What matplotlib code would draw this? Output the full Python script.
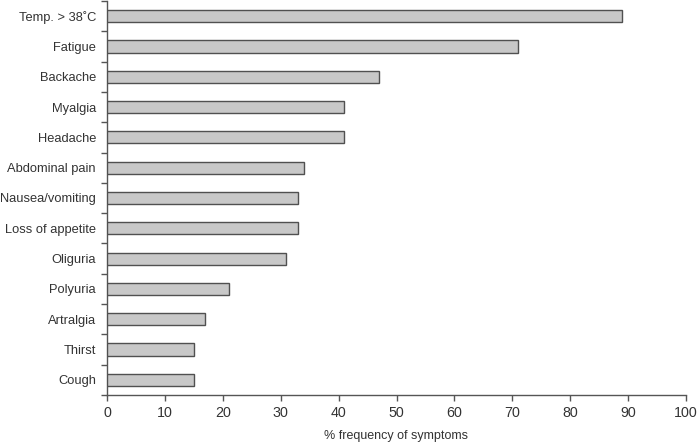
import matplotlib
matplotlib.use("Agg")
import matplotlib.pyplot as plt
import numpy as np

plt.rcParams['font.family'] = ['Liberation Sans', 'DejaVu Sans']

symptoms = ["Temp. > 38\u02daC", "Fatigue", "Backache", "Myalgia", "Headache",
            "Abdominal pain", "Nausea/vomiting", "Loss of appetite", "Oliguria",
            "Polyuria", "Artralgia", "Thirst", "Cough"]
frequency = [89, 71, 47, 41, 41, 34, 33, 33, 31, 21, 17, 15, 15]
xticks = [0, 10, 20, 30, 40, 50, 60, 70, 80, 90, 100]

axis_col = "#555555"
text_col = "#333333"

fig = plt.figure(figsize=(6.99, 4.42), dpi=100)
ax = fig.add_axes([107/699, 47/442, (686-107)/699, (395-1)/442])

n = len(symptoms)
y = np.arange(n)[::-1]
ax.barh(y, frequency, height=0.4, color="#c8c8c8", edgecolor="#505050", linewidth=1.0, zorder=3)

ax.set_xlim(0, 100)
ax.set_ylim(-0.5, n - 0.5)
ax.set_xticks(xticks)
ax.set_xticklabels([str(v) for v in xticks], fontsize=10.3, color=text_col)
ax.set_yticks(y)
ax.set_yticklabels(symptoms, fontsize=9.3, color=text_col)
ax.set_yticks(np.arange(n + 1) - 0.5, minor=True)
ax.tick_params(axis='y', which='major', length=0, pad=8)
ax.tick_params(axis='y', which='minor', length=4, width=1, color=axis_col, direction='out')
ax.tick_params(axis='x', which='major', length=4, width=1, color=axis_col, direction='out', pad=4)

for s in ['top', 'right']:
    ax.spines[s].set_visible(False)
for s in ['left', 'bottom']:
    ax.spines[s].set_color(axis_col)
    ax.spines[s].set_linewidth(1.0)

ax.set_xlabel("% frequency of symptoms", fontsize=9, color=text_col, labelpad=7)

fig.savefig("out.png", dpi=100)
